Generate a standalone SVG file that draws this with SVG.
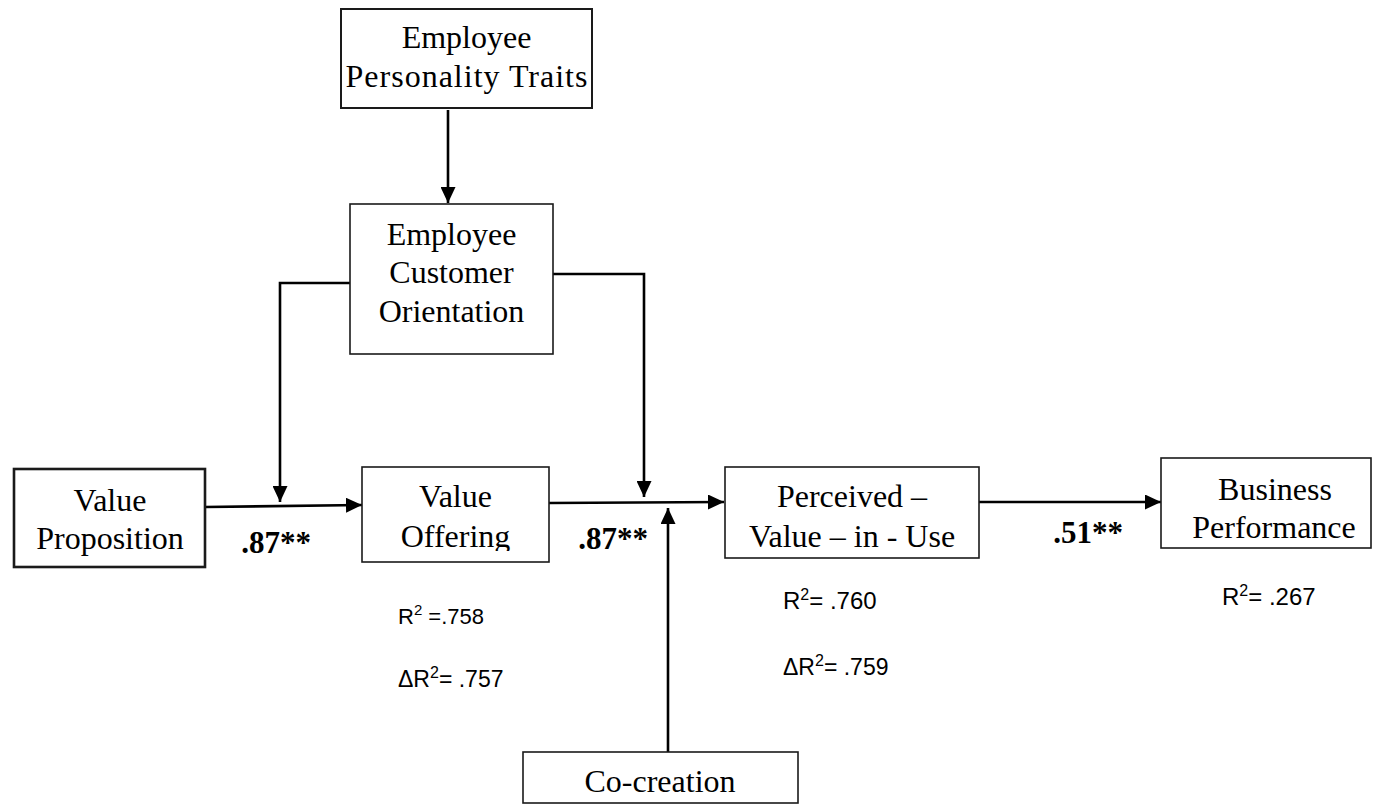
<svg xmlns="http://www.w3.org/2000/svg" width="1373" height="805" viewBox="0 0 1373 805">
<style>
.box{fill:#fff;stroke:#1a1a1a;stroke-width:1.6}
.thick{stroke-width:2.6}
.t{font-family:"Liberation Serif","Times New Roman",serif;font-size:32px;fill:#000;text-anchor:middle}
.b{font-family:"Liberation Serif","Times New Roman",serif;font-size:31px;font-weight:bold;fill:#000;text-anchor:middle}
.s{font-family:"Liberation Sans",Arial,sans-serif;fill:#000}
.c{fill:none;stroke:#000;stroke-width:2.6;marker-end:url(#ah)}
</style>
<defs>
<marker id="ah" markerUnits="userSpaceOnUse" markerWidth="17" markerHeight="15" refX="16" refY="7.5" orient="auto">
<path d="M0,0 L16,7.5 L0,15 Z" fill="#000"/>
</marker>
<clipPath id="voclip"><rect x="362" y="467" width="187" height="84"/></clipPath>
</defs>

<g id="connectors">
<line class="c" x1="448" y1="110" x2="448" y2="203"/>
<path class="c" d="M350,283 H280 V502"/>
<path class="c" d="M553,274 H644 V497"/>
<line class="c" x1="205" y1="507" x2="362" y2="505"/>
<line class="c" x1="549" y1="503" x2="724" y2="502"/>
<line class="c" x1="668" y1="752" x2="668" y2="508"/>
<line class="c" x1="979" y1="502" x2="1161" y2="502"/>
</g>

<g id="personality">
<rect class="box" x="341" y="9" width="251" height="99" style="stroke-width:2"/>
<text class="t" x="466.5" y="48">Employee</text>
<text class="t" x="467" y="87" letter-spacing="1">Personality Traits</text>
</g>

<g id="eco">
<rect class="box" x="350" y="204" width="203" height="150"/>
<text class="t" x="451.5" y="245">Employee</text>
<text class="t" x="451.5" y="283">Customer</text>
<text class="t" x="451.5" y="322">Orientation</text>
</g>

<g id="value-proposition">
<rect class="box thick" x="14" y="469" width="191" height="98"/>
<text class="t" x="110" y="511">Value</text>
<text class="t" x="110" y="549">Proposition</text>
</g>

<g id="value-offering">
<rect class="box" x="362" y="467" width="187" height="95"/>
<g clip-path="url(#voclip)">
<text class="t" x="455.5" y="507">Value</text>
<text class="t" x="455.5" y="547">Offering</text>
</g>
</g>

<g id="perceived">
<rect class="box" x="725" y="467" width="254" height="91"/>
<text class="t" x="852" y="507">Perceived –</text>
<text class="t" x="852" y="547">Value – in - Use</text>
</g>

<g id="business">
<rect class="box" x="1161" y="458" width="210" height="90"/>
<text class="t" x="1275" y="500">Business</text>
<text class="t" x="1274" y="538">Performance</text>
</g>

<g id="cocreation">
<rect class="box" x="523" y="752" width="275" height="51"/>
<text class="t" x="660" y="792">Co-creation</text>
</g>

<g id="labels">
<text class="b" x="276" y="553">.87**</text>
<text class="b" x="613" y="549">.87**</text>
<text class="b" x="1088" y="543">.51**</text>
<text class="s" x="398" y="624" font-size="22">R<tspan font-size="15" dy="-9">2</tspan><tspan dy="9"> =.758</tspan></text>
<text class="s" x="398" y="687" font-size="23">ΔR<tspan font-size="16" dy="-9">2</tspan><tspan dy="9">= .757</tspan></text>
<text class="s" x="783" y="609" font-size="24">R<tspan font-size="16" dy="-9">2</tspan><tspan dy="9">= .760</tspan></text>
<text class="s" x="783" y="675" font-size="23">ΔR<tspan font-size="16" dy="-9">2</tspan><tspan dy="9">= .759</tspan></text>
<text class="s" x="1222" y="605" font-size="24">R<tspan font-size="16" dy="-9">2</tspan><tspan dy="9">= .267</tspan></text>
</g>
</svg>
